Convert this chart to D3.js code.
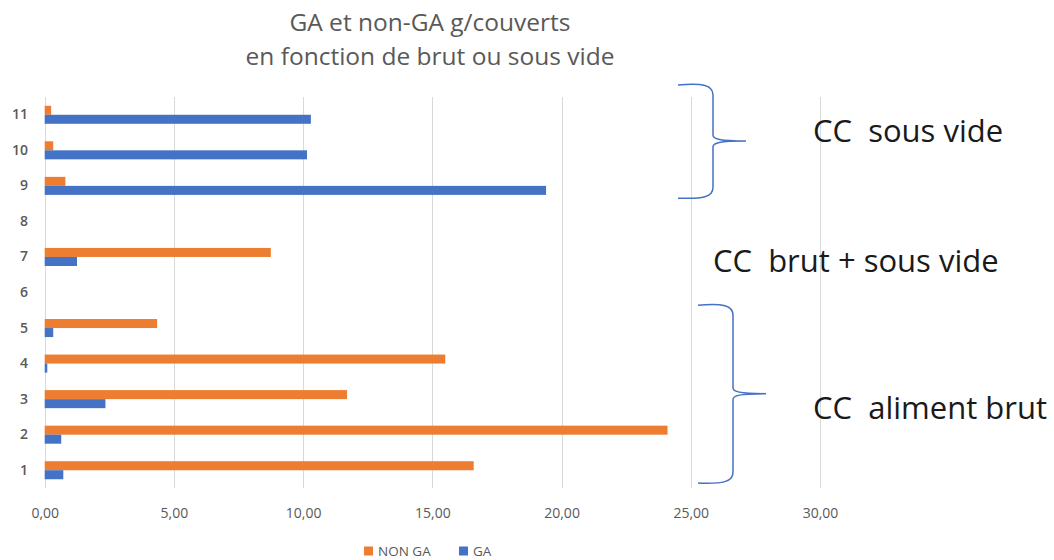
<!DOCTYPE html>
<html>
<head>
<meta charset="utf-8">
<script src="https://cdn.jsdelivr.net/npm/d3@7"></script>
<style>
  html, body { margin: 0; padding: 0; background: #ffffff; }
  svg { display: block; }
  text { font-family: "Open Sans", Lato, sans-serif; }
</style>
</head>
<body>
<svg id="chart" width="1054" height="560"></svg>
<script>
// ---- data ----
const categories = ["1", "2", "3", "4", "5", "6", "7", "8", "9", "10", "11"];
const seriesNames = ["NON GA", "GA"];
const nonGA = [16.6, 24.1, 11.7, 15.5, 4.35, null, 8.75, null, 0.8, 0.33, 0.25];
const ga    = [0.72, 0.64, 2.35, 0.1, 0.33, null, 1.25, null, 19.4, 10.15, 10.3];
const xTicks = [0, 5, 10, 15, 20, 25, 30];
const titleLines = ["GA et non-GA g/couverts", "en fonction de brut ou sous vide"];
const annotations = ["CC  sous vide", "CC  brut + sous vide", "CC  aliment brut"];

const colors = { "NON GA": "#ED7D31", "GA": "#4472C4" };

const svg = d3.select("#chart");

const x = d3.scaleLinear().domain([0, 30]).range([44.7, 820]);
const y = d3.scaleBand().domain(categories).range([488, 97]).padding(0);
const yInner = d3.scaleBand().domain(seriesNames).range([0, y.bandwidth()])
  .paddingInner(0).paddingOuter(0.97);

// gridlines
svg.append("g")
  .selectAll("line")
  .data(xTicks)
  .join("line")
  .attr("x1", d => Math.round(x(d)) + 0.5)
  .attr("x2", d => Math.round(x(d)) + 0.5)
  .attr("y1", 97)
  .attr("y2", 488)
  .attr("stroke", "#d9d9d9")
  .attr("stroke-width", 1);

// bars
const rows = categories.map((c, i) => ({ cat: c, vals: [
  { s: "NON GA", v: nonGA[i] }, { s: "GA", v: ga[i] } ] }));

const gRows = svg.append("g").selectAll("g")
  .data(rows)
  .join("g")
  .attr("transform", d => `translate(0,${y(d.cat)})`);

gRows.selectAll("rect")
  .data(d => d.vals.filter(v => v.v != null))
  .join("rect")
  .attr("x", x(0))
  .attr("y", d => yInner(d.s))
  .attr("width", d => x(d.v) - x(0))
  .attr("height", yInner.bandwidth())
  .attr("fill", d => colors[d.s]);

// x axis labels
const xAxis = d3.axisBottom(x)
  .tickValues(xTicks)
  .tickSize(0)
  .tickPadding(0)
  .tickFormat(d => d3.format(".2f")(d).replace(".", ","));
const gx = svg.append("g").attr("transform", "translate(0,508)").call(xAxis);
gx.select(".domain").remove();
gx.selectAll("text")
  .attr("fill", "#595959")
  .attr("font-size", 14)
  .attr("font-family", "'Open Sans', sans-serif");

// y axis labels
const yAxis = d3.axisLeft(y).tickSize(0).tickPadding(0);
const gy = svg.append("g").attr("transform", "translate(28,0)").call(yAxis);
gy.select(".domain").remove();
gy.selectAll("text")
  .attr("fill", "#595959")
  .attr("font-size", 14)
  .attr("font-weight", 600)
  .attr("font-family", "'Open Sans', sans-serif");

// title
svg.append("g").selectAll("text")
  .data(titleLines)
  .join("text")
  .attr("x", 430)
  .attr("y", (d, i) => 31 + i * 34)
  .attr("text-anchor", "middle")
  .attr("font-size", 24.5)
  .attr("fill", "#595959")
  .text(d => d);

// legend
const legend = svg.append("g").attr("transform", "translate(364,551)");
const legendX = [0, 95];
seriesNames.forEach((s, i) => {
  const g = legend.append("g").attr("transform", `translate(${legendX[i]},0)`);
  g.append("rect").attr("x", 0).attr("y", -4.5).attr("width", 9).attr("height", 9).attr("fill", colors[s]);
  g.append("text").attr("x", 14).attr("y", 0).attr("dy", "0.35em")
    .attr("font-size", 13.5).attr("fill", "#595959").text(s);
});

// braces
function brace(x0, xMid, xTip, yTop, yBot) {
  const yc = (yTop + yBot) / 2;
  const r = 6;
  return `M${x0},${yTop} C${xMid - 10},${yTop - 2} ${xMid},${yTop} ${xMid},${yTop + r + 4}` +
    ` L${xMid},${yc - r}` +
    ` C${xMid},${yc - 2} ${xMid + 6},${yc} ${xTip},${yc}` +
    ` M${xTip},${yc} C${xMid + 6},${yc} ${xMid},${yc + 2} ${xMid},${yc + r}` +
    ` L${xMid},${yBot - r - 4}` +
    ` C${xMid},${yBot} ${xMid - 10},${yBot + 2} ${x0},${yBot + 1}`;
}
svg.append("path")
  .attr("d", brace(678, 713, 746, y("11") - 12, y("9") + y.bandwidth() - 6.5))
  .attr("fill", "none").attr("stroke", "#4472C4").attr("stroke-width", 1.5);
svg.append("path")
  .attr("d", brace(698, 733, 766, y("5") - 5, y("1") + y.bandwidth() - 6))
  .attr("fill", "none").attr("stroke", "#4472C4").attr("stroke-width", 1.5);

// annotation texts
const annPos = [ { x: 813, yy: 142 }, { x: 713, yy: 272 }, { x: 813, yy: 419 } ];
svg.append("g").selectAll("text")
  .data(annotations)
  .join("text")
  .attr("x", (d, i) => annPos[i].x)
  .attr("y", (d, i) => annPos[i].yy)
  .attr("font-size", 31)
  .attr("fill", "#1a1a1a")
  .attr("xml:space", "preserve")
  .style("white-space", "pre")
  .text(d => d);
</script>
</body>
</html>
